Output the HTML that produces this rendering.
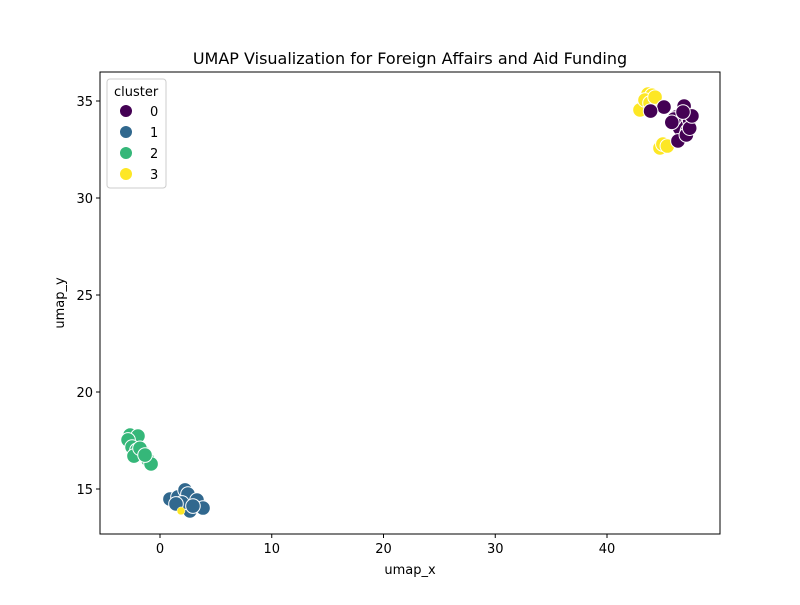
<!DOCTYPE html>
<html><head><meta charset="utf-8"><style>
body{margin:0;background:#fff}
svg text{font-family:"DejaVu Sans","Liberation Sans",sans-serif;fill:#000}
</style></head><body>
<svg id="chart" width="800" height="600">
<rect width="800" height="600" fill="#fff"/>
<text x="410" y="64" font-size="16" text-anchor="middle">UMAP Visualization for Foreign Affairs and Aid Funding</text>
<g id="marks"></g>
<rect x="100" y="72" width="620" height="462" fill="none" stroke="#000" stroke-width="1"/>
<g id="axes"></g>
<text x="410" y="574" font-size="13" text-anchor="middle">umap_x</text>
<text x="64" y="303" font-size="13" text-anchor="middle" transform="rotate(-90 64 303)">umap_y</text>
<g>
<rect x="107" y="79" width="59" height="109" rx="3" fill="#fff" fill-opacity="0.8" stroke="#ccc"/>
<text x="114" y="96" font-size="13">cluster</text>
<g id="legend-entries"></g>
</g>
</svg>
<script>
const cat0X=[45.1,43.9,46.2,46.9,47.4,46.5,47.2,47.4,46.0,46.35,47.1,47.4,47.6,46.8,45.8];
const cat0Y=[34.69,34.48,34.18,34.74,34.12,33.6,33.45,34.0,34.07,32.94,33.25,33.6,34.23,34.43,33.9];
const cat1X=[0.89,1.61,2.24,2.5,3.58,2.68,3.31,1.97,3.85,2.95,1.43];
const cat1Y=[14.48,14.59,14.95,14.74,14.18,13.87,14.43,14.28,14.02,14.12,14.23];
const cat2X=[-2.68,-1.97,-2.86,-2.5,-2.06,-1.52,-1.07,-0.8,-2.33,-1.79,-1.34];
const cat2Y=[17.78,17.73,17.53,17.16,17.0,16.9,16.5,16.29,16.7,17.1,16.75];
const cat3X=[42.95,43.67,44.03,43.4,43.85,44.74,45.0,45.4,44.3];
const cat3Y=[34.54,35.36,35.3,35.05,34.9,32.58,32.78,32.68,35.2];
const smallX=[1.88];const smallY=[13.87];
const xTicks=[0,10,20,30,40];
const yTicks=[15,20,25,30,35];
const clusterLabels=["0","1","2","3"];
const colors=["#440154","#31688e","#35b779","#fde725"];
const NS="http://www.w3.org/2000/svg";
const sx=v=>160+v*11.175, sy=v=>489-(v-15)*19.4;
function mk(t,a,p){const e=document.createElementNS(NS,t);for(const k in a)e.setAttribute(k,a[k]);p.appendChild(e);return e;}
const marks=document.getElementById('marks');
const sets=[[cat1X,cat1Y,1],[cat2X,cat2Y,2],[cat3X,cat3Y,3],[cat0X,cat0Y,0]];
sets.forEach(([xs,ys,c])=>xs.forEach((x,i)=>{
 const e=mk('circle',{cx:sx(x),cy:sy(ys[i]),r:7.3,fill:colors[c],stroke:'#fff','stroke-width':1},marks);
 
 
}));
smallX.forEach((x,i)=>{
 const e=mk('circle',{cx:sx(x),cy:sy(smallY[i]),r:4,fill:colors[3],stroke:'#fff','stroke-width':0.5},marks);
 
 
});
const ax=document.getElementById('axes');
xTicks.forEach(t=>{
 mk('line',{x1:sx(t),x2:sx(t),y1:534,y2:538,stroke:'#000'},ax);
 const e=mk('text',{x:sx(t),y:553,'font-size':13,'text-anchor':'middle'},ax);e.textContent=t;
 
 
});
yTicks.forEach(t=>{
 mk('line',{x1:96,x2:100,y1:sy(t),y2:sy(t),stroke:'#000'},ax);
 const e=mk('text',{x:93,y:sy(t)+5,'font-size':13,'text-anchor':'end'},ax);e.textContent=t;
 
 
});
const lg=document.getElementById('legend-entries');
clusterLabels.forEach((l,i)=>{
 const y=111+i*21;
 mk('circle',{cx:126,cy:y,r:6.5,fill:colors[i],stroke:'#fff'},lg);
 const e=mk('text',{x:150,y:y+5,'font-size':13},lg);e.textContent=l;
 
 
});
</script>
</body></html>
